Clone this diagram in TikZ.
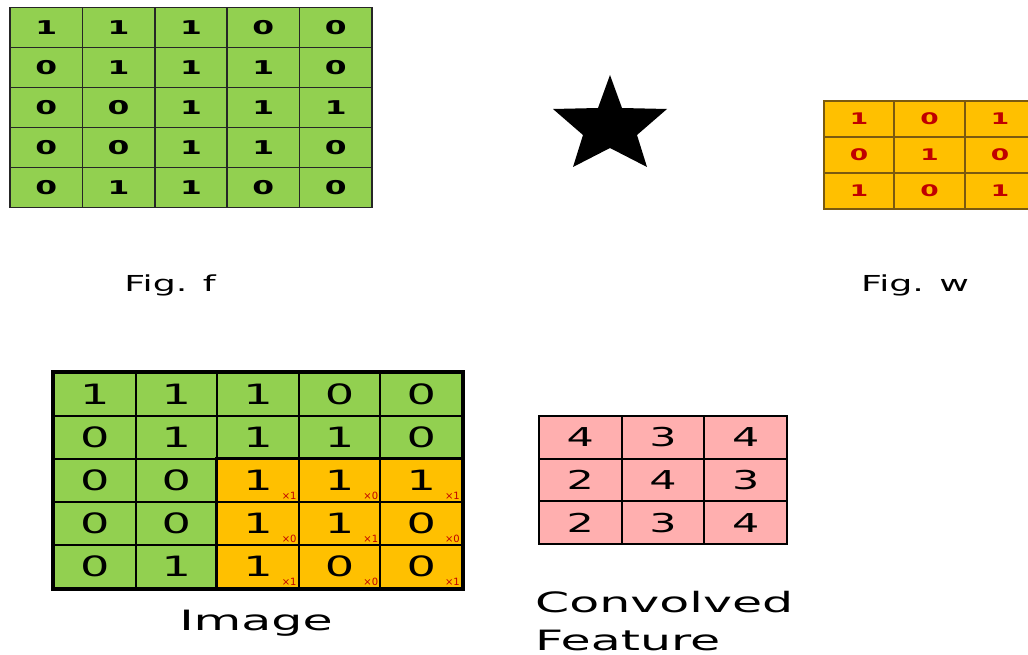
\documentclass[tikz,border=0pt]{standalone}
\usepackage{fontspec}
\setmainfont{DejaVu Sans}
\newfontfamily\wide[FakeStretch=1.65]{DejaVu Sans}
\newfontfamily\wider[FakeStretch=1.75]{DejaVu Sans}
\definecolor{grn}{HTML}{92D050}
\definecolor{org}{HTML}{FFC000}
\definecolor{pnk}{HTML}{FFAFAF}
\definecolor{krd}{HTML}{C00000}
\definecolor{kline}{HTML}{7A5A10}
\tikzset{
  fcell/.style={draw=black!85, fill=grn, line width=1.5pt, minimum width=72.4pt, minimum height=40pt, inner sep=0pt,
    font=\wide\bfseries\fontsize{19}{19}\selectfont},
  kcell/.style={draw=kline, fill=org, line width=1.5pt, minimum width=70pt, minimum height=36pt, inner sep=0pt,
    text=krd, font=\wide\bfseries\fontsize{16}{16}\selectfont},
  icell/.style={draw=black, line width=2pt, minimum width=81.6pt, minimum height=43pt, inner sep=0pt,
    font=\wide\fontsize{28}{28}\selectfont},
  ccell/.style={draw=black, fill=pnk, line width=2pt, minimum width=82.7pt, minimum height=42.7pt, inner sep=0pt,
    font=\wide\fontsize{26}{26}\selectfont},
  subx/.style={text=krd, inner sep=0pt, font=\fontsize{10}{10}\selectfont},
  lbl/.style={inner sep=0pt, font=\wide\fontsize{22}{22}\selectfont},
  biglbl/.style={inner sep=0pt, font=\wider\fontsize{28}{28}\selectfont}
}
\begin{document}
\begin{tikzpicture}[x=1pt,y=-1pt]
\clip (0,0) rectangle (1028,655);
\fill[white] (0,0) rectangle (1028,655);

% Fig. f grid
\foreach \row [count=\r from 0] in {{1,1,1,0,0},{0,1,1,1,0},{0,0,1,1,1},{0,0,1,1,0},{0,1,1,0,0}}{
  \foreach \v [count=\c from 0] in \row {
    \node[fcell] (f-\r-\c) at ({46.2+72.4*\c},{27.5+40*\r}) {\v};
  }
}

% star
\fill[black] (610,75) -- (622,108) -- (667,109) -- (637,135) -- (647,167) -- (610,148)
  -- (573,167) -- (583,135) -- (553,109) -- (598,108) -- cycle;

% Fig. w grid
\foreach \row [count=\r from 0] in {{1,0,1},{0,1,0},{1,0,1}}{
  \foreach \v [count=\c from 0] in \row {
    \node[kcell] (w-\r-\c) at ({859+70.5*\c},{119+36*\r}) {\v};
  }
}

\node[lbl] (figf) at (170,285) {Fig. f};
\node[lbl] (figw) at (915,285) {Fig. w};

% Image grid
\foreach \row [count=\r from 0] in {{1,1,1,0,0},{0,1,1,1,0},{0,0,1,1,1},{0,0,1,1,0},{0,1,1,0,0}}{
  \foreach \v [count=\c from 0] in \row {
    \def\cc{grn}
    \ifnum\r>1 \ifnum\c>1 \def\cc{org}\fi\fi
    \node[icell, fill=\cc] (i-\r-\c) at ({94.8+81.6*\c},{394.5+43*\r}) {\v};
  }
}
\draw[line width=3.2pt] (i-0-0.north west) rectangle (i-4-4.south east);
\draw[line width=2.4pt] (i-2-2.north west) rectangle (i-4-4.south east);
\foreach \krow [count=\r from 2] in {{1,0,1},{0,1,0},{1,0,1}}{
  \foreach \k [count=\c from 2] in \krow {
    \node[subx, anchor=south east] (s-\r-\c) at ([xshift=-3pt,yshift=3pt]i-\r-\c.south east) {×\k};
  }
}
\node[biglbl] (imglbl) at (256,623) {Image};

% Convolved feature
\foreach \row [count=\r from 0] in {{4,3,4},{2,4,3},{2,3,4}}{
  \foreach \v [count=\c from 0] in \row {
    \node[ccell] (c-\r-\c) at ({580.3+82.7*\c},{437.3+42.7*\r}) {\v};
  }
}
\node[biglbl, anchor=west] (conv) at (535,602) {Convolved};
\node[biglbl, anchor=west] (feat) at (535,640) {Feature};
\end{tikzpicture}
\end{document}
